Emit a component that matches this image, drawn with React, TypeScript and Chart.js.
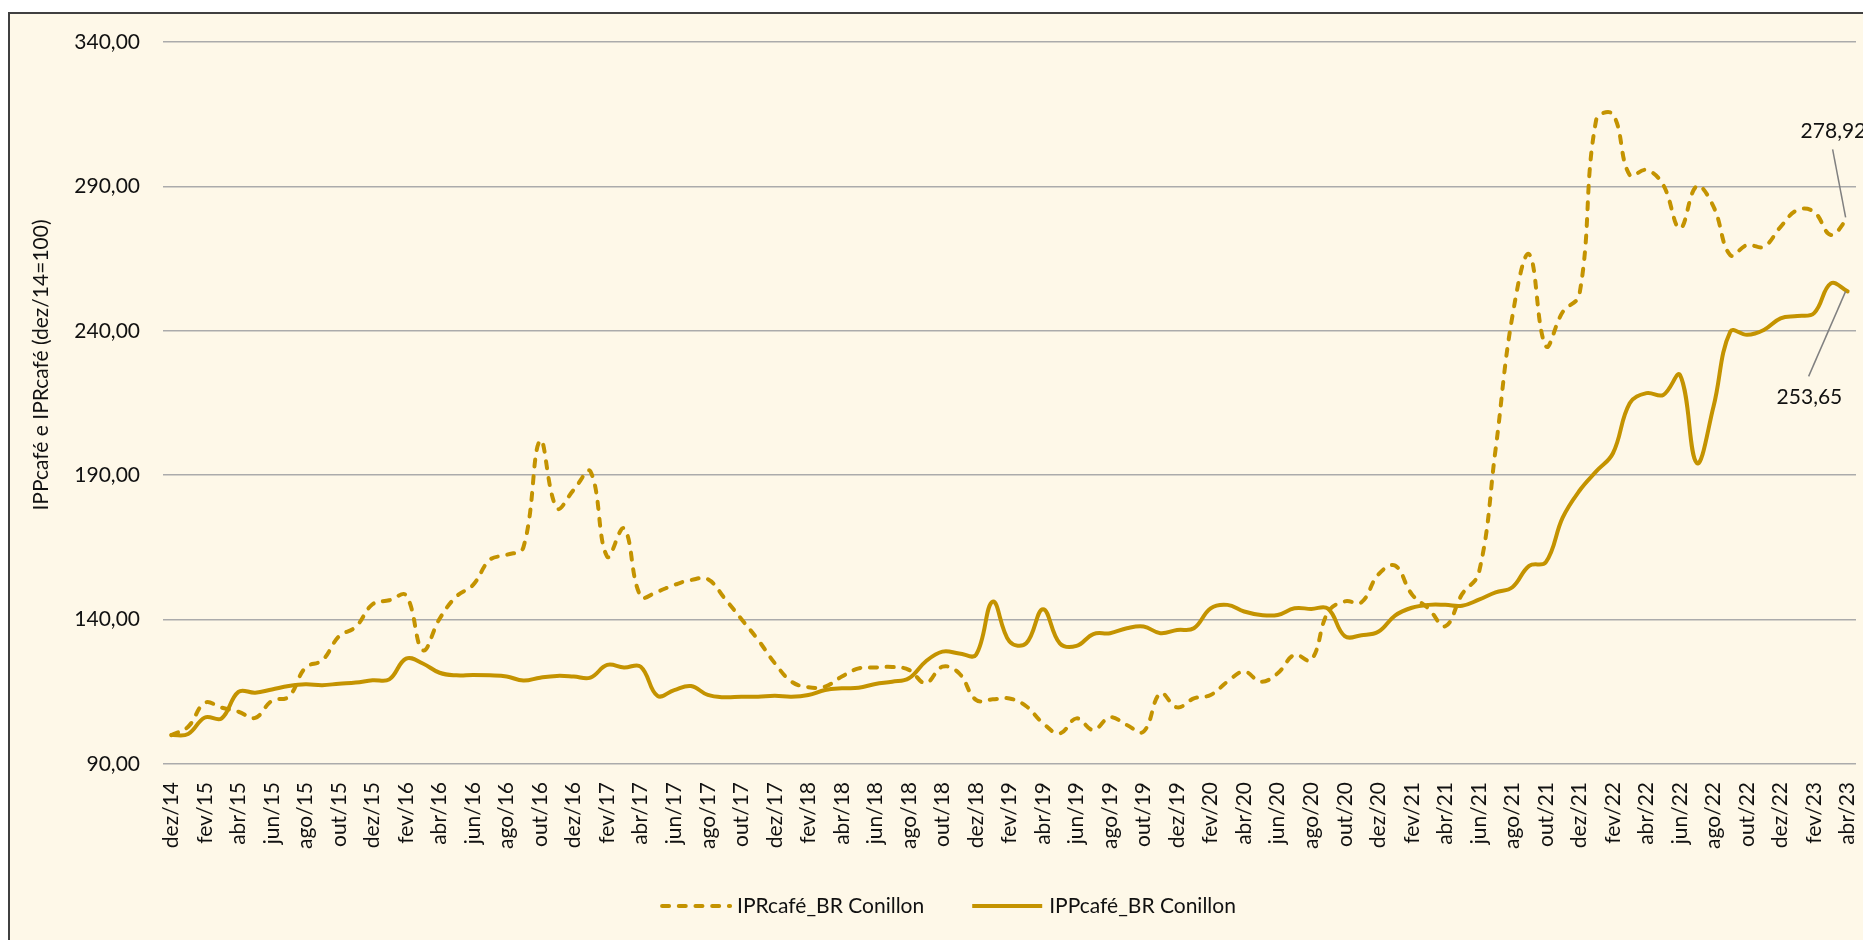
import React, { useEffect, useRef } from 'react';
import { Chart, registerables } from 'chart.js';

Chart.register(...registerables);

// ---------- DATA ----------
const monthLabels: string[] = [
  'dez/14',
  'jan/15', 'fev/15', 'mar/15', 'abr/15', 'mai/15', 'jun/15', 'jul/15', 'ago/15', 'set/15', 'out/15', 'nov/15', 'dez/15',
  'jan/16', 'fev/16', 'mar/16', 'abr/16', 'mai/16', 'jun/16', 'jul/16', 'ago/16', 'set/16', 'out/16', 'nov/16', 'dez/16',
  'jan/17', 'fev/17', 'mar/17', 'abr/17', 'mai/17', 'jun/17', 'jul/17', 'ago/17', 'set/17', 'out/17', 'nov/17', 'dez/17',
  'jan/18', 'fev/18', 'mar/18', 'abr/18', 'mai/18', 'jun/18', 'jul/18', 'ago/18', 'set/18', 'out/18', 'nov/18', 'dez/18',
  'jan/19', 'fev/19', 'mar/19', 'abr/19', 'mai/19', 'jun/19', 'jul/19', 'ago/19', 'set/19', 'out/19', 'nov/19', 'dez/19',
  'jan/20', 'fev/20', 'mar/20', 'abr/20', 'mai/20', 'jun/20', 'jul/20', 'ago/20', 'set/20', 'out/20', 'nov/20', 'dez/20',
  'jan/21', 'fev/21', 'mar/21', 'abr/21', 'mai/21', 'jun/21', 'jul/21', 'ago/21', 'set/21', 'out/21', 'nov/21', 'dez/21',
  'jan/22', 'fev/22', 'mar/22', 'abr/22', 'mai/22', 'jun/22', 'jul/22', 'ago/22', 'set/22', 'out/22', 'nov/22', 'dez/22',
  'jan/23', 'fev/23', 'mar/23', 'abr/23',
];

// IPRcafé_BR Conillon (dashed)
const iprValues: number[] = [
  100.0,
  102.9, 111.2, 109.5, 108.1, 106.0, 111.9, 113.3, 123.4, 125.9, 134.2, 137.5, 145.3,
  146.7, 148.4, 129.4, 140.3, 148.0, 152.0, 160.7, 162.4, 165.0, 202.0, 178.6, 184.9,
  191.3, 161.8, 171.6, 148.0, 149.7, 152.0, 153.7, 154.0, 147.4, 140.2, 133.0, 124.9,
  118.5, 116.6, 116.8, 120.3, 123.1, 123.4, 123.6, 122.6, 118.0, 123.7, 121.4, 112.2,
  112.4, 112.7, 110.0, 104.1, 100.6, 105.8, 101.8, 106.2, 103.5, 101.2, 114.5, 109.6,
  112.7, 113.9, 118.5, 122.0, 118.5, 121.4, 127.8, 126.0, 142.6, 146.3, 146.0, 155.6,
  158.7, 148.8, 143.8, 137.7, 148.8, 156.2, 199.0, 245.0, 266.5, 234.7, 246.5, 252.6,
  313.0, 315.0, 293.9, 295.7, 290.5, 275.5, 290.1, 283.0, 266.2, 269.7, 269.1, 276.0,
  281.8, 281.2, 273.2, 278.92,
];

// IPPcafé_BR Conillon (solid)
const ippValues: number[] = [
  100.0,
  100.4, 106.1, 105.8, 115.0, 114.7, 115.8, 117.0, 117.6, 117.3, 117.8, 118.2, 119.0,
  119.3, 126.5, 124.8, 121.6, 120.7, 120.8, 120.7, 120.3, 118.9, 119.9, 120.5, 120.3,
  119.9, 124.3, 123.4, 123.7, 113.6, 115.6, 117.0, 113.9, 113.1, 113.3, 113.3, 113.6,
  113.3, 113.9, 115.6, 116.2, 116.4, 117.7, 118.5, 119.7, 125.5, 128.9, 128.3, 127.8,
  146.2, 132.4, 131.8, 143.6, 131.8, 130.9, 135.0, 135.3, 137.0, 137.6, 135.3, 136.4,
  137.0, 143.9, 145.1, 142.8, 141.6, 141.6, 143.9, 143.7, 143.8, 134.3, 134.6, 135.8,
  141.4, 144.1, 145.1, 145.1, 144.8, 146.9, 149.4, 151.2, 158.6, 159.9, 175.3, 184.6,
  191.3, 197.6, 214.9, 218.4, 217.8, 224.7, 194.2, 213.8, 239.7, 238.6, 240.3, 244.3,
  245.1, 246.1, 256.4, 253.65,
];

const seriesNames: string[] = ['IPRcafé_BR Conillon', 'IPPcafé_BR Conillon'];
const yTitle = 'IPPcafé e IPRcafé (dez/14=100)';
const yMin = 90;
const yMax = 340;
const yStep = 50;

// ---------- STYLE ----------
const LINE_COLOR = '#C49300';
const BG = '#FEF8E8';
const TEXT = '#111111';
const GRID = '#ABABAB';
const LEADER = '#808080';
const FONT = 'Lato';
const DASH = [7, 9.7];

const CW = 1876;
const CH = 936;

const fmt = (v: number) => v.toFixed(2).replace('.', ',');

const overlayPlugin = {
  id: 'overlay',
  afterDraw(chart: any) {
    const ctx: CanvasRenderingContext2D = chart.ctx;

    // Y axis title
    ctx.save();
    ctx.font = `21px ${FONT}`;
    ctx.fillStyle = TEXT;
    ctx.translate(31.5, 351);
    ctx.rotate(-Math.PI / 2);
    ctx.textAlign = 'center';
    ctx.textBaseline = 'middle';
    ctx.fillText(yTitle, 0, 0);
    ctx.restore();

    // End-value labels with leader lines
    const ends = [
      { ds: 0, textDx: -47, textDy: -87, l1: [-15, -69], l2: [-2, -1] },
      { ds: 1, textDx: -71, textDy: 106, l1: [-39, 85], l2: [-2, 0] },
    ];
    ends.forEach((e) => {
      const meta = chart.getDatasetMeta(e.ds);
      const data = chart.data.datasets[e.ds].data as number[];
      const pt = meta.data[data.length - 1];
      if (!pt) return;
      ctx.save();
      ctx.strokeStyle = LEADER;
      ctx.lineWidth = 1.5;
      ctx.beginPath();
      ctx.moveTo(pt.x + e.l1[0], pt.y + e.l1[1]);
      ctx.lineTo(pt.x + e.l2[0], pt.y + e.l2[1]);
      ctx.stroke();
      ctx.font = `21px ${FONT}`;
      ctx.fillStyle = TEXT;
      ctx.textAlign = 'left';
      ctx.textBaseline = 'middle';
      ctx.fillText(fmt(data[data.length - 1]), pt.x + e.textDx, pt.y + e.textDy);
      ctx.restore();
    });

    // Legend
    ctx.save();
    ctx.font = `21px ${FONT}`;
    const swW = 70;
    const gapT = 7;
    const itemGap = 48;
    const widths = seriesNames.map((n) => swW + gapT + ctx.measureText(n).width);
    const total = widths.reduce((a, b) => a + b, 0) + itemGap * (widths.length - 1);
    let x = chart.width / 2 - total / 2;
    const y = 892;
    seriesNames.forEach((n, i) => {
      ctx.save();
      ctx.strokeStyle = LINE_COLOR;
      ctx.lineWidth = 4;
      ctx.lineCap = i === 0 ? 'round' : 'butt';
      ctx.setLineDash(i === 0 ? DASH : []);
      ctx.beginPath();
      ctx.moveTo(x + (i === 0 ? 2 : 0), y);
      ctx.lineTo(x + swW, y);
      ctx.stroke();
      ctx.restore();
      ctx.fillStyle = TEXT;
      ctx.textAlign = 'left';
      ctx.textBaseline = 'middle';
      ctx.fillText(n, x + swW + gapT, y);
      x += widths[i] + itemGap;
    });
    ctx.restore();
  },
};

export default function App() {
  const canvasRef = useRef<HTMLCanvasElement | null>(null);

  useEffect(() => {
    if (!canvasRef.current) return;
    Chart.defaults.font.family = FONT;
    const chart = new Chart(canvasRef.current, {
      type: 'line',
      data: {
        labels: monthLabels,
        datasets: [
          {
            label: seriesNames[0],
            data: iprValues,
            borderColor: LINE_COLOR,
            backgroundColor: LINE_COLOR,
            borderWidth: 4,
            borderDash: DASH,
            borderCapStyle: 'round',
            borderJoinStyle: 'round',
            pointRadius: 0,
            tension: 0.4,
            fill: false,
          },
          {
            label: seriesNames[1],
            data: ippValues,
            borderColor: LINE_COLOR,
            backgroundColor: LINE_COLOR,
            borderWidth: 4,
            borderCapStyle: 'round',
            borderJoinStyle: 'round',
            pointRadius: 0,
            tension: 0.4,
            fill: false,
          },
        ],
      },
      options: {
        animation: false,
        responsive: false,
        layout: { padding: { left: 0, top: 28, right: 30, bottom: 0 } },
        plugins: {
          legend: { display: false },
          tooltip: { enabled: false },
        },
        scales: {
          x: {
            type: 'category',
            offset: true,
            grid: { display: false, drawTicks: false },
            border: { display: false },
            ticks: {
              autoSkip: false,
              minRotation: 90,
              maxRotation: 90,
              padding: 18,
              color: TEXT,
              font: { family: FONT, size: 21 },
              callback: function (this: any, val: any, idx: number) {
                return idx % 2 === 0 ? this.getLabelForValue(val) : '';
              },
            },
            afterFit: (scale: any) => {
              scale.height = 186;
              scale.paddingLeft = 0;
              scale.paddingRight = 0;
            },
          },
          y: {
            min: yMin,
            max: yMax,
            grid: { color: GRID, lineWidth: 1.5, drawTicks: false },
            border: { display: false },
            ticks: {
              stepSize: yStep,
              padding: 23,
              color: TEXT,
              font: { family: FONT, size: 21 },
              callback: (v: any) => fmt(Number(v)),
            },
            afterFit: (scale: any) => {
              scale.width = 153;
              scale.paddingTop = 0;
              scale.paddingBottom = 0;
            },
          },
        },
      },
      plugins: [overlayPlugin],
    });
    return () => chart.destroy();
  }, []);

  return (
    <div
      style={{
        position: 'fixed',
        left: 8,
        top: 12,
        width: 1880,
        height: 940,
        boxSizing: 'border-box',
        border: '2px solid #404040',
        background: BG,
      }}
    >
      <canvas ref={canvasRef} width={CW} height={CH} style={{ display: 'block', width: CW, height: CH }} />
    </div>
  );
}
